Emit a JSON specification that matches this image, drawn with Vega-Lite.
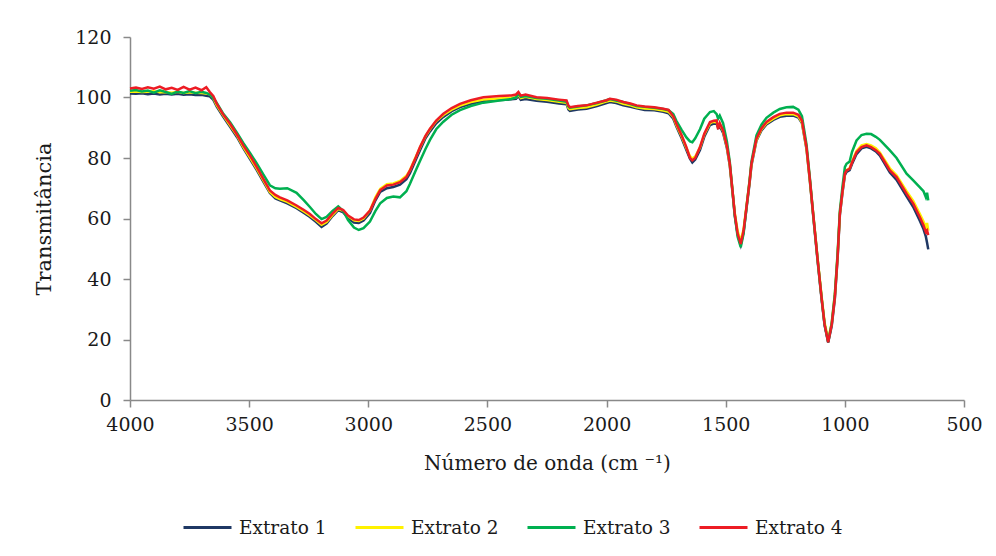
{
  "$schema": "https://vega.github.io/schema/vega-lite/v6.json",
  "autosize": "none",
  "padding": {"left": 130, "top": 37, "right": 32, "bottom": 156},
  "width": 834,
  "height": 363,
  "background": "white",
  "config": {
    "view": {"stroke": null},
    "font": "DejaVu Serif",
    "axis": {
      "grid": false,
      "domainColor": "#898989",
      "tickColor": "#898989",
      "domainWidth": 1.5,
      "tickWidth": 1.5,
      "tickSize": 7,
      "labelFont": "DejaVu Serif",
      "labelFontSize": 19,
      "labelColor": "#1a1a1a",
      "titleFont": "DejaVu Serif",
      "titleFontWeight": "normal",
      "titleColor": "#1a1a1a",
      "labelFlush": false,
      "labelOverlap": false
    },
    "legend": {
      "labelFont": "DejaVu Serif",
      "labelFontSize": 18.5,
      "labelColor": "#1a1a1a"
    }
  },
  "data": {
    "values": [
      {"wn":4000,"e1":101.3,"e2":101.9,"e3":102.2,"e4":103.0},
      {"wn":3975,"e1":101.2,"e2":102.0,"e3":102.5,"e4":103.3},
      {"wn":3950,"e1":101.4,"e2":101.8,"e3":102.0,"e4":102.8},
      {"wn":3925,"e1":101.1,"e2":101.9,"e3":102.3,"e4":103.4},
      {"wn":3900,"e1":101.3,"e2":102.1,"e3":101.6,"e4":102.9},
      {"wn":3875,"e1":101.0,"e2":101.7,"e3":102.4,"e4":103.6},
      {"wn":3850,"e1":101.2,"e2":101.8,"e3":101.8,"e4":102.7},
      {"wn":3825,"e1":101.0,"e2":101.6,"e3":101.2,"e4":103.2},
      {"wn":3800,"e1":101.2,"e2":101.9,"e3":102.0,"e4":102.5},
      {"wn":3775,"e1":100.9,"e2":101.5,"e3":101.5,"e4":103.5},
      {"wn":3750,"e1":101.1,"e2":101.7,"e3":102.1,"e4":102.6},
      {"wn":3725,"e1":100.8,"e2":101.6,"e3":101.4,"e4":103.3},
      {"wn":3700,"e1":100.9,"e2":101.5,"e3":101.9,"e4":102.4},
      {"wn":3680,"e1":100.6,"e2":101.3,"e3":101.5,"e4":103.4},
      {"wn":3665,"e1":100.4,"e2":101.1,"e3":101.0,"e4":101.8},
      {"wn":3650,"e1":99.2,"e2":99.8,"e3":99.8,"e4":100.4},
      {"wn":3636,"e1":97.0,"e2":97.5,"e3":98.2,"e4":98.0},
      {"wn":3610,"e1":93.8,"e2":94.3,"e3":94.8,"e4":94.5},
      {"wn":3580,"e1":90.3,"e2":90.8,"e3":91.8,"e4":91.3},
      {"wn":3550,"e1":86.8,"e2":87.3,"e3":88.2,"e4":87.6},
      {"wn":3524,"e1":83.2,"e2":83.6,"e3":84.9,"e4":84.1},
      {"wn":3495,"e1":79.5,"e2":80.0,"e3":81.5,"e4":80.6},
      {"wn":3468,"e1":76.0,"e2":76.5,"e3":78.2,"e4":77.0},
      {"wn":3440,"e1":72.1,"e2":72.6,"e3":74.5,"e4":73.0},
      {"wn":3413,"e1":68.4,"e2":68.8,"e3":71.0,"e4":69.3},
      {"wn":3390,"e1":66.6,"e2":67.1,"e3":70.0,"e4":67.8},
      {"wn":3371,"e1":66.0,"e2":66.4,"e3":69.8,"e4":67.0},
      {"wn":3340,"e1":65.0,"e2":65.5,"e3":70.0,"e4":66.0},
      {"wn":3301,"e1":63.4,"e2":63.8,"e3":68.5,"e4":64.3},
      {"wn":3270,"e1":61.8,"e2":62.3,"e3":66.0,"e4":62.8},
      {"wn":3245,"e1":60.5,"e2":61.0,"e3":63.8,"e4":61.5},
      {"wn":3220,"e1":58.9,"e2":59.5,"e3":61.5,"e4":59.8},
      {"wn":3196,"e1":57.2,"e2":57.9,"e3":59.8,"e4":58.4},
      {"wn":3175,"e1":58.3,"e2":58.8,"e3":60.5,"e4":59.3},
      {"wn":3150,"e1":60.8,"e2":61.2,"e3":62.5,"e4":61.6},
      {"wn":3126,"e1":62.8,"e2":63.2,"e3":64.0,"e4":63.5},
      {"wn":3105,"e1":62.0,"e2":62.5,"e3":62.5,"e4":62.8},
      {"wn":3085,"e1":60.2,"e2":60.8,"e3":59.5,"e4":61.0},
      {"wn":3060,"e1":58.7,"e2":59.4,"e3":57.0,"e4":59.7},
      {"wn":3040,"e1":58.5,"e2":59.2,"e3":56.2,"e4":59.5},
      {"wn":3020,"e1":59.3,"e2":60.0,"e3":56.8,"e4":60.3},
      {"wn":2993,"e1":61.8,"e2":62.6,"e3":59.0,"e4":62.6},
      {"wn":2970,"e1":66.0,"e2":67.0,"e3":62.5,"e4":66.5},
      {"wn":2950,"e1":68.8,"e2":69.8,"e3":65.0,"e4":69.4},
      {"wn":2922,"e1":70.0,"e2":71.3,"e3":66.8,"e4":70.9},
      {"wn":2895,"e1":70.4,"e2":71.6,"e3":67.3,"e4":71.2},
      {"wn":2867,"e1":71.2,"e2":72.4,"e3":67.0,"e4":72.0},
      {"wn":2840,"e1":73.0,"e2":74.1,"e3":69.0,"e4":73.7},
      {"wn":2825,"e1":75.0,"e2":76.0,"e3":71.5,"e4":75.9},
      {"wn":2800,"e1":79.5,"e2":80.5,"e3":76.0,"e4":80.3},
      {"wn":2783,"e1":82.6,"e2":83.5,"e3":79.0,"e4":83.6},
      {"wn":2760,"e1":86.5,"e2":87.2,"e3":83.0,"e4":87.3},
      {"wn":2741,"e1":88.8,"e2":89.5,"e3":86.0,"e4":89.7},
      {"wn":2715,"e1":91.5,"e2":92.2,"e3":89.5,"e4":92.4},
      {"wn":2685,"e1":93.6,"e2":94.2,"e3":92.0,"e4":94.6},
      {"wn":2650,"e1":95.5,"e2":96.0,"e3":94.3,"e4":96.5},
      {"wn":2615,"e1":96.8,"e2":97.3,"e3":95.8,"e4":97.9},
      {"wn":2570,"e1":97.9,"e2":98.5,"e3":97.2,"e4":99.1},
      {"wn":2517,"e1":98.8,"e2":99.3,"e3":98.3,"e4":100.1},
      {"wn":2450,"e1":99.2,"e2":99.7,"e3":99.0,"e4":100.5},
      {"wn":2400,"e1":99.4,"e2":99.9,"e3":99.5,"e4":100.7},
      {"wn":2380,"e1":99.6,"e2":100.1,"e3":100.0,"e4":101.0},
      {"wn":2370,"e1":100.5,"e2":101.0,"e3":101.3,"e4":101.8},
      {"wn":2360,"e1":99.2,"e2":99.8,"e3":100.2,"e4":100.6},
      {"wn":2340,"e1":99.5,"e2":100.2,"e3":100.5,"e4":101.0},
      {"wn":2294,"e1":98.9,"e2":99.5,"e3":99.8,"e4":100.1},
      {"wn":2250,"e1":98.6,"e2":99.2,"e3":99.6,"e4":99.8},
      {"wn":2200,"e1":98.0,"e2":98.6,"e3":99.0,"e4":99.3},
      {"wn":2168,"e1":97.8,"e2":98.3,"e3":98.6,"e4":99.0},
      {"wn":2160,"e1":96.0,"e2":96.5,"e3":97.0,"e4":97.3},
      {"wn":2154,"e1":95.6,"e2":96.1,"e3":96.6,"e4":96.8},
      {"wn":2120,"e1":96.0,"e2":96.5,"e3":97.0,"e4":97.2},
      {"wn":2084,"e1":96.3,"e2":96.8,"e3":97.4,"e4":97.4},
      {"wn":2040,"e1":97.2,"e2":97.7,"e3":98.2,"e4":98.3},
      {"wn":2000,"e1":98.2,"e2":98.7,"e3":99.1,"e4":99.1},
      {"wn":1986,"e1":98.5,"e2":99.0,"e3":99.5,"e4":99.6},
      {"wn":1960,"e1":98.2,"e2":98.7,"e3":99.0,"e4":99.3},
      {"wn":1930,"e1":97.4,"e2":97.9,"e3":98.5,"e4":98.5},
      {"wn":1900,"e1":96.9,"e2":97.4,"e3":97.8,"e4":98.0},
      {"wn":1874,"e1":96.4,"e2":96.8,"e3":97.2,"e4":97.4},
      {"wn":1840,"e1":95.9,"e2":96.4,"e3":96.9,"e4":97.0},
      {"wn":1800,"e1":95.8,"e2":96.2,"e3":96.6,"e4":96.8},
      {"wn":1762,"e1":95.3,"e2":95.7,"e3":96.2,"e4":96.3},
      {"wn":1740,"e1":94.8,"e2":95.3,"e3":95.8,"e4":95.9},
      {"wn":1720,"e1":93.0,"e2":93.6,"e3":94.5,"e4":93.8},
      {"wn":1707,"e1":90.4,"e2":90.9,"e3":92.3,"e4":91.3},
      {"wn":1685,"e1":86.5,"e2":87.2,"e3":89.3,"e4":87.5},
      {"wn":1665,"e1":82.6,"e2":83.3,"e3":86.8,"e4":83.6},
      {"wn":1650,"e1":79.8,"e2":80.6,"e3":85.5,"e4":80.0},
      {"wn":1640,"e1":78.5,"e2":79.8,"e3":85.2,"e4":79.2},
      {"wn":1628,"e1":79.5,"e2":80.5,"e3":86.5,"e4":80.0},
      {"wn":1608,"e1":82.6,"e2":83.5,"e3":89.5,"e4":83.6},
      {"wn":1590,"e1":87.0,"e2":87.8,"e3":93.0,"e4":88.0},
      {"wn":1566,"e1":90.9,"e2":91.5,"e3":95.2,"e4":91.9},
      {"wn":1550,"e1":91.4,"e2":92.0,"e3":95.5,"e4":92.3},
      {"wn":1538,"e1":91.3,"e2":91.8,"e3":94.5,"e4":92.4},
      {"wn":1532,"e1":90.0,"e2":90.6,"e3":93.0,"e4":89.5},
      {"wn":1525,"e1":90.6,"e2":91.2,"e3":94.0,"e4":91.5},
      {"wn":1511,"e1":88.3,"e2":88.9,"e3":91.5,"e4":89.1},
      {"wn":1495,"e1":83.2,"e2":83.8,"e3":85.5,"e4":84.0},
      {"wn":1483,"e1":77.5,"e2":78.0,"e3":78.8,"e4":78.1},
      {"wn":1470,"e1":67.5,"e2":68.0,"e3":68.0,"e4":68.0},
      {"wn":1462,"e1":61.0,"e2":61.8,"e3":61.0,"e4":61.5},
      {"wn":1450,"e1":54.8,"e2":55.8,"e3":54.0,"e4":55.0},
      {"wn":1437,"e1":51.3,"e2":52.5,"e3":50.5,"e4":51.6},
      {"wn":1425,"e1":55.5,"e2":56.5,"e3":55.0,"e4":56.0},
      {"wn":1413,"e1":63.2,"e2":64.0,"e3":63.5,"e4":63.7},
      {"wn":1400,"e1":71.5,"e2":72.2,"e3":72.5,"e4":72.0},
      {"wn":1392,"e1":77.5,"e2":78.0,"e3":78.8,"e4":78.1},
      {"wn":1371,"e1":85.7,"e2":86.0,"e3":87.5,"e4":86.4},
      {"wn":1350,"e1":89.1,"e2":89.5,"e3":91.0,"e4":89.8},
      {"wn":1329,"e1":91.1,"e2":91.5,"e3":93.3,"e4":91.9},
      {"wn":1300,"e1":92.6,"e2":93.0,"e3":95.0,"e4":93.5},
      {"wn":1273,"e1":93.6,"e2":94.1,"e3":96.2,"e4":94.6},
      {"wn":1245,"e1":94.0,"e2":94.5,"e3":96.8,"e4":95.0},
      {"wn":1217,"e1":94.0,"e2":94.5,"e3":96.9,"e4":95.0},
      {"wn":1195,"e1":93.4,"e2":93.8,"e3":96.0,"e4":94.3},
      {"wn":1180,"e1":91.5,"e2":91.8,"e3":93.8,"e4":92.3},
      {"wn":1161,"e1":83.0,"e2":83.3,"e3":84.5,"e4":83.6},
      {"wn":1147,"e1":72.5,"e2":72.8,"e3":73.5,"e4":73.0},
      {"wn":1133,"e1":61.0,"e2":61.6,"e3":61.5,"e4":61.5},
      {"wn":1115,"e1":46.5,"e2":47.3,"e3":47.0,"e4":47.0},
      {"wn":1098,"e1":33.6,"e2":34.6,"e3":34.0,"e4":34.0},
      {"wn":1085,"e1":24.7,"e2":25.6,"e3":25.0,"e4":25.0},
      {"wn":1070,"e1":19.0,"e2":20.0,"e3":19.2,"e4":19.1},
      {"wn":1055,"e1":24.5,"e2":25.5,"e3":25.5,"e4":25.0},
      {"wn":1042,"e1":33.5,"e2":34.8,"e3":35.0,"e4":34.0},
      {"wn":1030,"e1":47.5,"e2":48.5,"e3":49.0,"e4":48.0},
      {"wn":1021,"e1":61.0,"e2":61.8,"e3":62.5,"e4":61.5},
      {"wn":1010,"e1":68.5,"e2":69.2,"e3":70.5,"e4":69.0},
      {"wn":1000,"e1":74.3,"e2":75.0,"e3":77.0,"e4":74.8},
      {"wn":993,"e1":75.4,"e2":76.0,"e3":78.1,"e4":75.9},
      {"wn":980,"e1":76.0,"e2":76.6,"e3":78.8,"e4":76.4},
      {"wn":970,"e1":78.0,"e2":78.8,"e3":82.0,"e4":78.5},
      {"wn":951,"e1":81.3,"e2":82.3,"e3":85.8,"e4":81.9},
      {"wn":930,"e1":83.2,"e2":84.2,"e3":87.6,"e4":83.6},
      {"wn":909,"e1":83.7,"e2":84.6,"e3":88.0,"e4":84.2},
      {"wn":890,"e1":83.2,"e2":84.2,"e3":87.9,"e4":83.6},
      {"wn":870,"e1":82.2,"e2":83.2,"e3":87.0,"e4":82.6},
      {"wn":853,"e1":80.8,"e2":81.8,"e3":86.0,"e4":81.4},
      {"wn":811,"e1":75.2,"e2":76.6,"e3":82.5,"e4":75.9},
      {"wn":783,"e1":72.8,"e2":74.3,"e3":80.0,"e4":73.7},
      {"wn":741,"e1":67.3,"e2":69.0,"e3":74.8,"e4":68.2},
      {"wn":713,"e1":63.8,"e2":65.8,"e3":72.6,"e4":64.9},
      {"wn":685,"e1":59.2,"e2":61.5,"e3":70.3,"e4":60.4},
      {"wn":670,"e1":56.5,"e2":59.0,"e3":69.0,"e4":57.8},
      {"wn":660,"e1":54.0,"e2":57.0,"e3":67.0,"e4":55.5},
      {"wn":655,"e1":52.0,"e2":58.5,"e3":68.5,"e4":56.0},
      {"wn":650,"e1":49.8,"e2":56.0,"e3":66.0,"e4":54.5}
    ]
  },
  "transform": [
    {"fold": ["e1", "e2", "e3", "e4"], "as": ["key", "t"]},
    {"lookup": "key", "from": {"data": {"values": [
      {"key": "e1", "serie": "Extrato 1"},
      {"key": "e2", "serie": "Extrato 2"},
      {"key": "e3", "serie": "Extrato 3"},
      {"key": "e4", "serie": "Extrato 4"}
    ]}, "key": "key", "fields": ["serie"]}}
  ],
  "mark": {"type": "line", "strokeWidth": 2.5, "interpolate": "linear"},
  "encoding": {
    "x": {
      "field": "wn",
      "type": "quantitative",
      "scale": {"domain": [4000, 500], "nice": false, "zero": false},
      "axis": {
        "values": [4000, 3500, 3000, 2500, 2000, 1500, 1000, 500],
        "format": "d",
        "labelPadding": 8,
        "title": "Número de onda (cm ⁻¹)",
        "titleFontSize": 20,
        "titlePadding": 19
      }
    },
    "y": {
      "field": "t",
      "type": "quantitative",
      "scale": {"domain": [0, 120], "nice": false},
      "axis": {
        "values": [0, 20, 40, 60, 80, 100, 120],
        "labelPadding": 12,
        "title": "Transmitância",
        "titleFontSize": 21,
        "titlePadding": 20
      }
    },
    "color": {
      "field": "serie",
      "type": "nominal",
      "scale": {
        "domain": ["Extrato 1", "Extrato 2", "Extrato 3", "Extrato 4"],
        "range": ["#1f3864", "#fff200", "#00b050", "#ed1c24"]
      },
      "legend": {
        "title": null,
        "orient": "none",
        "direction": "horizontal",
        "legendX": 52,
        "legendY": 465,
        "symbolType": "stroke",
        "symbolSize": 2304,
        "symbolStrokeWidth": 3,
        "labelOffset": 6,
        "columnPadding": 22
      }
    }
  }
}
